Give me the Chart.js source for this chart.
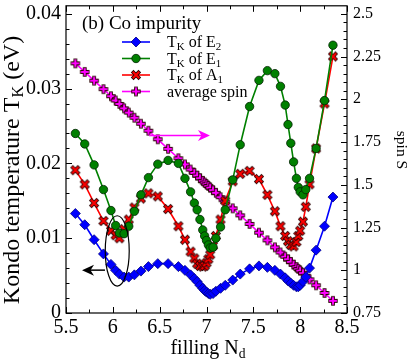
<!DOCTYPE html>
<html>
<head>
<meta charset="utf-8">
<script src="https://cdn.jsdelivr.net/npm/chart.js@4.4.0/dist/chart.umd.min.js"></script>
<style>
  body { margin: 0; background: #fff; }
  #wrap { width: 415px; height: 361px; }
</style>
</head>
<body>
<div id="wrap"><canvas id="chart"></canvas></div>
<script>
// filling N_d (shared by all curves)
const filling = [5.6, 5.7, 5.8, 5.9, 5.98, 6.03, 6.07, 6.12, 6.17, 6.23, 6.3, 6.38, 6.48, 6.59, 6.7,
  6.77, 6.83, 6.87, 6.9, 6.93, 6.96, 6.98, 7.0, 7.02, 7.04, 7.07, 7.1, 7.15, 7.2, 7.28, 7.36, 7.46,
  7.56, 7.65, 7.73, 7.79, 7.84, 7.87, 7.9, 7.93, 7.96, 7.98, 8.0, 8.03, 8.06, 8.1, 8.17, 8.26, 8.35];

// Kondo temperatures (eV)
const tkE2 = [0.0133, 0.0118, 0.0098, 0.0079, 0.0065, 0.0057, 0.0052, 0.0048, 0.0048, 0.0051, 0.0056,
  0.0062, 0.0066, 0.0066, 0.0062, 0.0057, 0.0051, 0.0046, 0.0042, 0.0037, 0.0033, 0.0030, 0.0028,
  0.0026, 0.0025, 0.0026, 0.0029, 0.0033, 0.0037, 0.0044, 0.0052, 0.0059, 0.0063, 0.0061, 0.0057,
  0.0052, 0.0047, 0.0043, 0.0040, 0.0037, 0.0035, 0.0035, 0.0037, 0.0042, 0.0048, 0.0060, 0.0084,
  0.0116, 0.0155];
const tkE1 = [0.0240, 0.0226, 0.0198, 0.0165, 0.0137, 0.0117, 0.0107, 0.0106, 0.0116, 0.0136, 0.0158,
  0.0181, 0.0199, 0.0204, 0.0200, 0.0180, 0.0162, 0.0147, 0.0138, 0.0125, 0.0111, 0.0103, 0.0097,
  0.0091, 0.0087, 0.0088, 0.0100, 0.0115, 0.0138, 0.0178, 0.0225, 0.0276, 0.0311, 0.0324, 0.0320,
  0.0303, 0.0278, 0.0252, 0.0227, 0.0202, 0.0180, 0.0168, 0.0162, 0.0158, 0.0165, 0.0180, 0.0220,
  0.0284, 0.0358];
const tkA1 = [0.0191, 0.0172, 0.0147, 0.0123, 0.0110, 0.0104, 0.0100, 0.0112, 0.0125, 0.0141, 0.0153,
  0.0160, 0.0156, 0.0139, 0.0116, 0.0098, 0.0082, 0.0073, 0.0066, 0.0063, 0.0062, 0.0063, 0.0067,
  0.0072, 0.0078, 0.0090, 0.0103, 0.0125, 0.0150, 0.0176, 0.0186, 0.0190, 0.0179, 0.0158, 0.0136,
  0.0116, 0.0103, 0.0096, 0.0091, 0.0089, 0.0095, 0.0103, 0.0110, 0.0122, 0.0142, 0.0172, 0.0220,
  0.0280, 0.0343];

// average spin S (right axis)
const avgSpin = [2.210, 2.160, 2.109, 2.059, 2.018, 1.993, 1.973, 1.947, 1.922, 1.892, 1.857, 1.816,
  1.766, 1.710, 1.655, 1.619, 1.589, 1.569, 1.554, 1.538, 1.523, 1.513, 1.503, 1.493, 1.483, 1.468,
  1.453, 1.427, 1.402, 1.362, 1.321, 1.271, 1.220, 1.175, 1.134, 1.104, 1.079, 1.064, 1.049, 1.033,
  1.018, 1.008, 0.998, 0.983, 0.968, 0.947, 0.912, 0.867, 0.821];

const leftTicks = [0, 0.01, 0.02, 0.03, 0.04];
const rightTicks = [0.75, 1, 1.25, 1.5, 1.75, 2, 2.25, 2.5];
const bottomTicks = [5.5, 6, 6.5, 7, 7.5, 8, 8.5];

const SERIF = '"Liberation Serif", "DejaVu Serif", serif';

// thick cross / plus markers with a dark outline
function makeMarker(rotated, color, r) {
  const c = document.createElement('canvas');
  c.width = 14; c.height = 14;
  const g = c.getContext('2d');
  g.translate(7, 7);
  if (rotated) g.rotate(Math.PI / 4);
  g.lineCap = 'square';
  g.beginPath();
  g.moveTo(-r, 0); g.lineTo(r, 0);
  g.moveTo(0, -r); g.lineTo(0, r);
  g.strokeStyle = '#2a0000'; g.lineWidth = 3.8; g.stroke();
  g.strokeStyle = color; g.lineWidth = 2.1; g.stroke();
  return c;
}
const crossMarker = makeMarker(true, '#ff0000', 3.5);
const plusMarker = makeMarker(false, '#ff00ff', 2.8);

const toPts = (ys) => filling.map((x, i) => ({ x: x, y: ys[i] }));

function richText(ctx, parts, size, x, y, align) {
  let w = 0;
  parts.forEach(p => {
    ctx.font = (p[1] ? size * 0.68 : size) + 'px ' + SERIF;
    w += ctx.measureText(p[0]).width;
  });
  let cx = align === 'center' ? x - w / 2 : x;
  ctx.textAlign = 'left';
  ctx.textBaseline = 'alphabetic';
  parts.forEach(p => {
    ctx.font = (p[1] ? size * 0.68 : size) + 'px ' + SERIF;
    ctx.fillText(p[0], cx, p[1] ? y + size * 0.2 : y);
    cx += ctx.measureText(p[0]).width;
  });
}

function arrow(ctx, x0, x1, y, color) {
  const d = Math.sign(x1 - x0);
  ctx.strokeStyle = color;
  ctx.fillStyle = color;
  ctx.lineWidth = 1.5;
  ctx.beginPath();
  ctx.moveTo(x0, y); ctx.lineTo(x1 - d * 6, y);
  ctx.stroke();
  ctx.beginPath();
  ctx.moveTo(x1, y);
  ctx.lineTo(x1 - d * 12, y - 5.5);
  ctx.lineTo(x1 - d * 8.5, y);
  ctx.lineTo(x1 - d * 12, y + 5.5);
  ctx.closePath();
  ctx.fill();
}

const decorations = {
  id: 'decorations',
  afterDraw(chart) {
    const ctx = chart.ctx;
    const a = chart.chartArea;
    const sx = chart.scales.x, sy = chart.scales.y, s2 = chart.scales.y2;
    ctx.save();

    // frame
    ctx.strokeStyle = '#000';
    ctx.lineWidth = 1.2;
    ctx.strokeRect(a.left, a.top, a.right - a.left, a.bottom - a.top);

    // inward ticks
    ctx.lineWidth = 1;
    ctx.beginPath();
    for (let v = 5.5; v <= 8.501; v += 0.25) {
      const px = Math.round(sx.getPixelForValue(v)) + 0.5;
      const len = Math.abs(v * 2 - Math.round(v * 2)) < 1e-6 ? 6 : 3.5;
      ctx.moveTo(px, a.bottom); ctx.lineTo(px, a.bottom - len);
      ctx.moveTo(px, a.top); ctx.lineTo(px, a.top + len);
    }
    for (let i = 0; i <= 20; i++) {
      const py = Math.round(sy.getPixelForValue(i * 0.002)) + 0.5;
      const len = i % 5 === 0 ? 6 : 3.5;
      ctx.moveTo(a.left, py); ctx.lineTo(a.left + len, py);
    }
    for (let i = 0; i <= 35; i++) {
      const py = Math.round(s2.getPixelForValue(0.75 + i * 0.05)) + 0.5;
      const len = i % 5 === 0 ? 6 : 3.5;
      ctx.moveTo(a.right, py); ctx.lineTo(a.right - len, py);
    }
    ctx.stroke();

    ctx.fillStyle = '#000';
    // axis titles
    ctx.save();
    ctx.translate(18.5, 170);
    ctx.rotate(-Math.PI / 2);
    richText(ctx, [['Kondo temperature T'], ['K', 1], [' (eV)']], 24, 0, 0, 'center');
    ctx.restore();

    ctx.save();
    ctx.translate(396.5, 150);
    ctx.rotate(Math.PI / 2);
    richText(ctx, [['spin S']], 15.5, 0, 0, 'center');
    ctx.restore();

    richText(ctx, [['filling N'], ['d', 1]], 20, 208, 354, 'center');

    // panel label
    richText(ctx, [['(b) Co impurity']], 19, 82, 29, 'left');

    // legend
    const rows = [
      { parts: [['T'], ['K', 1], [' of E'], ['2', 1]], color: '#0000ff', y: 42 },
      { parts: [['T'], ['K', 1], [' of E'], ['1', 1]], color: '#008000', y: 58.5 },
      { parts: [['T'], ['K', 1], [' of A'], ['1', 1]], color: '#ff0000', y: 75 },
      { parts: [['average spin']], color: '#ff00ff', y: 91.5 }
    ];
    rows.forEach((r, i) => {
      ctx.strokeStyle = r.color;
      ctx.lineWidth = 1.6;
      ctx.beginPath();
      ctx.moveTo(122, r.y); ctx.lineTo(150, r.y);
      ctx.stroke();
      if (i === 0) {
        ctx.beginPath();
        ctx.moveTo(136, r.y - 5); ctx.lineTo(141, r.y); ctx.lineTo(136, r.y + 5); ctx.lineTo(131, r.y);
        ctx.closePath();
        ctx.fillStyle = '#0000ff'; ctx.fill();
        ctx.strokeStyle = '#000080'; ctx.lineWidth = 0.8; ctx.stroke();
      } else if (i === 1) {
        ctx.beginPath();
        ctx.arc(136, r.y, 4.2, 0, Math.PI * 2);
        ctx.fillStyle = '#008000'; ctx.fill();
        ctx.strokeStyle = '#002200'; ctx.lineWidth = 0.8; ctx.stroke();
      } else {
        ctx.drawImage(i === 2 ? crossMarker : plusMarker, 129, r.y - 7);
      }
      ctx.fillStyle = '#000';
      richText(ctx, r.parts, 16, 167, r.y + 5, 'left');
    });

    // ellipse and arrows
    ctx.strokeStyle = '#000';
    ctx.lineWidth = 1.2;
    const ex = sx.getPixelForValue(6.047), ey = sy.getPixelForValue(0.0083);
    const erx = sx.getPixelForValue(6.047 + 0.128) - ex;
    const ery = ey - sy.getPixelForValue(0.0083 + 0.0047);
    ctx.beginPath();
    ctx.ellipse(ex, ey, erx, ery, 0, 0, Math.PI * 2);
    ctx.stroke();
    arrow(ctx, sx.getPixelForValue(5.916), sx.getPixelForValue(5.671), sy.getPixelForValue(0.00573), '#000');
    arrow(ctx, sx.getPixelForValue(6.386), sx.getPixelForValue(7.037), sy.getPixelForValue(0.02373), '#ff00ff');

    ctx.restore();
  }
};

const tickFont = (size) => ({ family: SERIF, size: size });

// fixed axis sizes, no extra label overhang padding
function fixSize(prop, size) {
  return (s) => {
    s[prop] = size;
    s.paddingTop = 0; s.paddingBottom = 0; s.paddingLeft = 0; s.paddingRight = 0;
  };
}

new Chart('chart', {
  type: 'line',
  data: {
    datasets: [
      {
        label: 'TK of E2', data: toPts(tkE2), yAxisID: 'y',
        borderColor: '#0000ff', backgroundColor: '#0000ff', borderWidth: 1.6,
        pointStyle: 'rectRot', pointRadius: 5, pointBorderColor: '#000080', pointBorderWidth: 0.8
      },
      {
        label: 'TK of E1', data: toPts(tkE1), yAxisID: 'y',
        borderColor: '#008000', backgroundColor: '#008000', borderWidth: 1.6,
        pointStyle: 'circle', pointRadius: 4.2, pointBorderColor: '#002200', pointBorderWidth: 0.8
      },
      {
        label: 'TK of A1', data: toPts(tkA1), yAxisID: 'y',
        borderColor: '#ff0000', backgroundColor: '#ff0000', borderWidth: 1.6,
        pointStyle: crossMarker
      },
      {
        label: 'average spin', data: toPts(avgSpin), yAxisID: 'y2',
        borderColor: '#ff00ff', backgroundColor: '#ff00ff', borderWidth: 1.6,
        pointStyle: plusMarker
      }
    ]
  },
  options: {
    responsive: true,
    maintainAspectRatio: false,
    animation: false,
    layout: { padding: { top: 5 } },
    elements: { line: { tension: 0 } },
    plugins: { legend: { display: false }, tooltip: { enabled: false } },
    scales: {
      x: {
        type: 'linear', min: 5.5, max: 8.5,
        grid: { display: false, drawTicks: false }, border: { display: false },
        afterBuildTicks: (s) => { s.ticks = bottomTicks.map(v => ({ value: v })); },
        afterFit: fixSize('height', 48),
        ticks: { font: tickFont(20), color: '#000', padding: 3, autoSkip: false, maxRotation: 0,
          callback: (v) => String(v) }
      },
      y: {
        position: 'left', min: 0, max: 0.04107,
        grid: { display: false, drawTicks: false }, border: { display: false },
        afterBuildTicks: (s) => { s.ticks = leftTicks.map(v => ({ value: v })); },
        afterFit: fixSize('width', 66),
        ticks: { font: tickFont(20), color: '#000', padding: 5,
          callback: (v) => v === 0 ? '0' : v.toFixed(2) }
      },
      y2: {
        position: 'right', min: 0.75, max: 2.5467,
        grid: { display: false, drawTicks: false }, border: { display: false },
        afterBuildTicks: (s) => { s.ticks = rightTicks.map(v => ({ value: v })); },
        afterFit: fixSize('width', 68),
        ticks: { font: tickFont(16), color: '#000', padding: 6,
          callback: (v) => String(v) }
      }
    }
  },
  plugins: [decorations]
});
</script>
</body>
</html>
